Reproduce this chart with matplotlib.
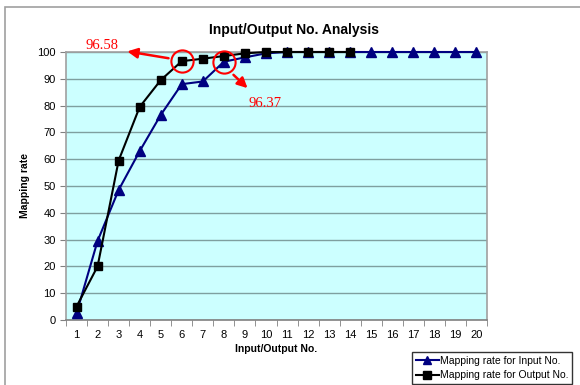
import matplotlib
matplotlib.use("Agg")
import matplotlib.pyplot as plt
from matplotlib.patches import Rectangle

plt.rcParams["font.family"] = ["Liberation Sans", "DejaVu Sans"]

x_in = list(range(1, 21))
rate_in = [2.5, 29.5, 48.5, 63, 76.5, 88, 89, 96.37, 98, 99.5,
           100, 100, 100, 100, 100, 100, 100, 100, 100, 100]
x_out = list(range(1, 15))
rate_out = [5, 20, 59.5, 79.5, 89.5, 96.58, 97.5, 98.5, 99.5, 100,
            100, 100, 100, 100]
yticks = list(range(0, 101, 10))

fig = plt.figure(figsize=(5.8, 3.85), dpi=100)
ax = fig.add_axes([66 / 580, 65 / 385, 421 / 580, 268 / 385])
ax.set_facecolor("#ccffff")

# outer chart frame (Excel style)
fig.patches.append(Rectangle((5 / 580, -0.1), 1.0, (385 - 7) / 385 + 0.1,
                             transform=fig.transFigure, fill=False,
                             edgecolor="#a0a0a0", lw=1.2))

ax.plot(x_in, rate_in, "-^", color="#000080", lw=1.5, ms=7,
        label="Mapping rate for Input No.", clip_on=False, zorder=3)
ax.plot(x_out, rate_out, "-s", color="black", lw=1.5, ms=6,
        label="Mapping rate for Output No.", clip_on=False, zorder=4)

ax.set_xlim(0.5, 20.5)
ax.set_ylim(0, 100)
ax.set_yticks(yticks)
ax.set_xticks(x_in)
ax.set_xticks([i + 0.5 for i in range(0, 21)], minor=True)
ax.tick_params(axis="x", which="major", length=0, pad=7, labelsize=8)
ax.tick_params(axis="x", which="minor", length=4, color="#808080")
ax.tick_params(axis="y", length=4, color="#808080", labelsize=8)
ax.yaxis.grid(True, color="#7f9f9f", lw=1)
ax.set_axisbelow(True)
for s in ax.spines.values():
    s.set_color("#a0a0a0")
    s.set_linewidth(1.2)
ax.spines["bottom"].set_color("#808080")

ax.set_xlabel("Input/Output No.", fontsize=7.5, fontweight="bold", labelpad=3)
ax.set_ylabel("Mapping rate", fontsize=7.5, fontweight="bold", labelpad=5)
fig.text(294 / 580, 1 - 30 / 385, "Input/Output No. Analysis",
         fontsize=10, fontweight="bold", ha="center", va="center")

# highlight circles
ax.plot([6, 8], [rate_out[5], rate_in[7]], "o", mfc="none", mec="red",
        ms=16, mew=1.5, clip_on=False, zorder=5)
ax.annotate("", xy=(3.28, 100.4), xytext=(5.5, 97.5),
            arrowprops=dict(arrowstyle="-|>", color="red", lw=1.8,
                            mutation_scale=15), annotation_clip=False)
ax.annotate("", xy=(9.22, 85.8), xytext=(8.36, 92.2),
            arrowprops=dict(arrowstyle="-|>", color="red", lw=1.8,
                            mutation_scale=15), annotation_clip=False)
ax.text(2.2, 102.6, "96.58", color="red", fontsize=10.5,
        family="Liberation Serif", ha="center", va="center", clip_on=False)
ax.text(9.93, 80.9, "96.37", color="red", fontsize=10.5,
        family="Liberation Serif", ha="center", va="center")

fig.legend(loc="upper left", bbox_to_anchor=(412 / 580, 1 - 352 / 385),
           borderaxespad=0, fontsize=7.5, frameon=True, fancybox=False,
           edgecolor="black", handlelength=2.2, handletextpad=0.15,
           borderpad=0.35, labelspacing=0.45, markerscale=0.9)

fig.savefig("out.png", dpi=100)
